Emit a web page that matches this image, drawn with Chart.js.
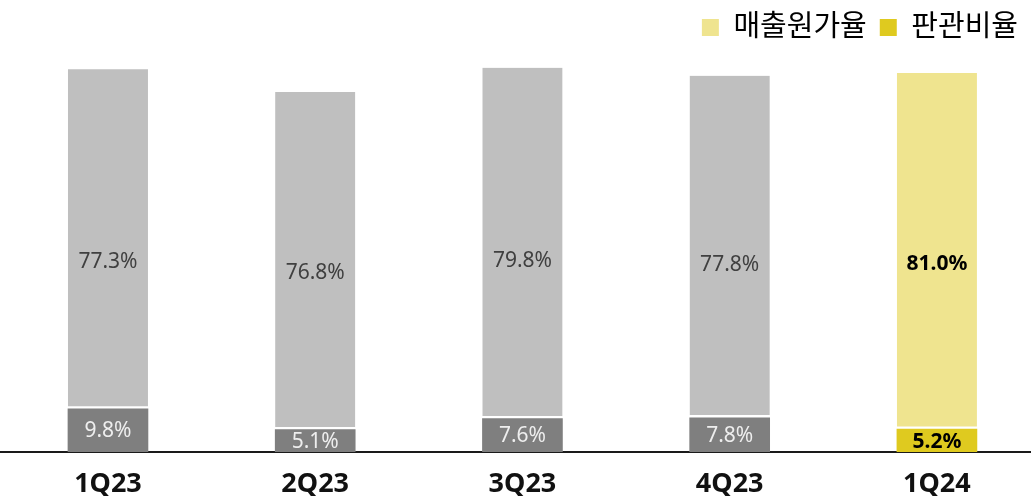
<!DOCTYPE html>
<html>
<head>
<meta charset="utf-8">
<script src="https://cdn.jsdelivr.net/npm/chart.js@4"></script>
<style>
  body { margin: 0; background: #fff; overflow: hidden; }
  #wrap { width: 1031px; height: 496px; }
</style>
</head>
<body>
<div id="wrap"><canvas id="cost-chart"></canvas></div>
<script>
// quarters
var categories = ["1Q23", "2Q23", "3Q23", "4Q23", "1Q24"];
// 판관비율 (bottom) and 매출원가율 (top), in %
var sgaRatio = [9.8, 5.1, 7.6, 7.8, 5.2];
var costRatio = [77.3, 76.8, 79.8, 77.8, 81.0];
var seriesNames = ["매출원가율", "판관비율"];

var sgaColors = ["#7f7f7f", "#7f7f7f", "#7f7f7f", "#7f7f7f", "#dfca1f"];
var costColors = ["#bfbfbf", "#bfbfbf", "#bfbfbf", "#bfbfbf", "#efe48f"];
var legendColors = ["#efe48f", "#dfca1f"];

var FONT = "'Noto Sans', 'Open Sans', 'Noto Sans CJK KR', sans-serif";

// percent labels on each segment
var segmentLabels = {
  id: "segmentLabels",
  afterDatasetsDraw(chart) {
    const ctx = chart.ctx;
    const yScale = chart.scales.y;
    const base = yScale.getPixelForValue(0);
    ctx.save();
    ctx.textAlign = "center";
    ctx.textBaseline = "middle";
    chart.data.datasets.forEach((ds, di) => {
      const meta = chart.getDatasetMeta(di);
      meta.data.forEach((bar, i) => {
        const last = i === categories.length - 1;
        const v = ds.data[i].y;
        let y;
        if (di === 1) {
          // top segment label sits at the middle of the whole bar
          y = (bar.y + base) / 2;
          ctx.fillStyle = last ? "#000" : "#404040";
        } else {
          y = (bar.y + bar.base) / 2;
          ctx.fillStyle = last ? "#000" : "#eeeeee";
        }
        ctx.font = (last ? "bold " : "") + "21px " + FONT;
        ctx.fillText(v.toFixed(1) + "%", bar.x, y + 1);
      });
    });
    ctx.restore();
  }
};

new Chart("cost-chart", {
  type: "bar",
  data: {
    datasets: [
      {
        label: seriesNames[1],
        data: sgaRatio.map((v, i) => ({ x: i, y: v })),
        backgroundColor: sgaColors,
        barThickness: 80
      },
      {
        label: seriesNames[0],
        data: costRatio.map((v, i) => ({ x: i, y: v })),
        backgroundColor: costColors,
        borderColor: "#ffffff",
        borderWidth: { top: 0, left: 0, right: 0, bottom: 3 },
        borderSkipped: false,
        barThickness: 80
      }
    ]
  },
  options: {
    responsive: true,
    maintainAspectRatio: false,
    animation: false,
    layout: { padding: { top: 0, left: 0, right: 0, bottom: -21 } },
    plugins: {
      tooltip: { enabled: false },
      legend: {
        position: "top",
        align: "end",
        labels: {
          boxWidth: 17,
          boxHeight: 17,
          padding: 13,
          color: "#111",
          font: { family: FONT, size: 29 },
          generateLabels: () => seriesNames.map((n, i) => ({
            text: n,
            fillStyle: legendColors[i],
            strokeStyle: legendColors[i],
            lineWidth: 0,
            datasetIndex: 1 - i
          }))
        }
      }
    },
    scales: {
      x: {
        type: "linear",
        stacked: true,
        offset: false,
        min: -0.521,
        max: 4.454,
        grid: { display: false, drawTicks: false },
        border: { display: true, color: "#1a1a1a", width: 2 },
        afterBuildTicks: (scale) => {
          scale.ticks = categories.map((c, i) => ({ value: i }));
        },
        ticks: {
          padding: 19,
          color: "#111",
          font: { family: FONT, size: 27, weight: "bold", lineHeight: 1 },
          callback: (v) => categories[v]
        }
      },
      y: {
        display: false,
        stacked: true,
        min: 0,
        max: 91
      }
    }
  },
  plugins: [segmentLabels]
});
</script>
</body>
</html>
